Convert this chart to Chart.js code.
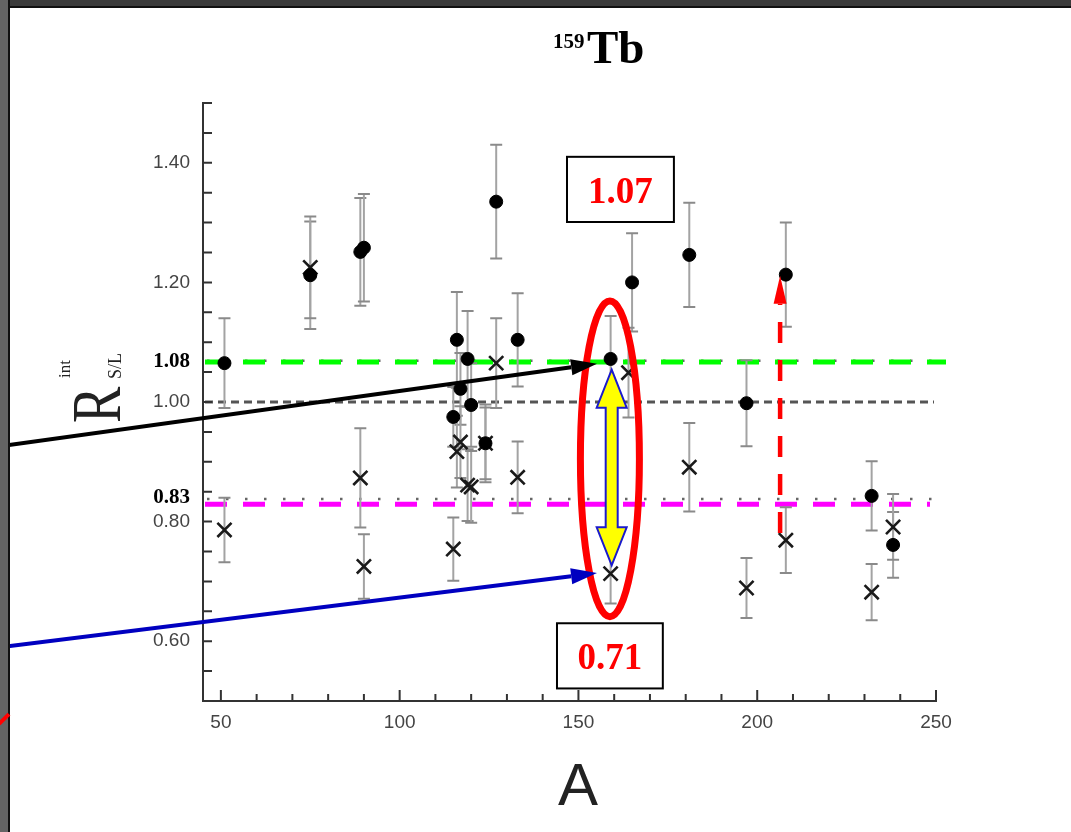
<!DOCTYPE html>
<html>
<head>
<meta charset="utf-8">
<title>159Tb</title>
<script src="https://cdn.jsdelivr.net/npm/chart.js@4.4.1/dist/chart.umd.min.js"></script>
<style>
  html, body { margin: 0; padding: 0; background: #fff; }
  #wrap { position: relative; width: 1071px; height: 832px; overflow: hidden; background: #fff; }
  #chart { position: absolute; left: 0; top: 0; }
  #frameTop { position: absolute; left: 0; top: 0; width: 1071px; height: 6px; background: #3b3b3b; border-bottom: 2px solid #111; }
  #frameLeft { position: absolute; left: 0; top: 0; width: 8px; height: 832px; background: #646464; border-right: 2px solid #111; }
  #redBit { position: absolute; left: -3px; top: 717px; width: 14px; height: 4px; background: #f00; transform: rotate(-45deg); }
</style>
</head>
<body>
<div id="wrap">
  <canvas id="chart" width="1071" height="832"></canvas>
  <div id="frameTop"></div>
  <div id="frameLeft"></div>
  <div id="redBit"></div>
</div>
<script>
// ---- ticks ----
const xTicks = [50, 60, 70, 80, 90, 100, 110, 120, 130, 140, 150, 160, 170, 180, 190, 200, 210, 220, 230, 240, 250];
const xLabels = [50, 100, 150, 200, 250];
const yTicks = [0.50, 0.55, 0.60, 0.65, 0.70, 0.75, 0.80, 0.85, 0.90, 0.95, 1.00,
                1.05, 1.10, 1.15, 1.20, 1.25, 1.30, 1.35, 1.40, 1.45, 1.50];
const yLabels = [0.60, 0.80, 1.00, 1.20, 1.40];
const yMarkTicks = [1.067, 0.84];
const yMarkText = ["1.08", "0.83"];

// ---- data: filled circles ----
const massS  = [51, 75, 89, 90, 115, 116, 117, 119, 120, 124, 127, 133, 159, 165, 181, 197, 208, 232, 238];
const ratioS = [1.065, 1.212, 1.251, 1.258, 0.975, 1.104, 1.022, 1.072, 0.995, 0.931, 1.335, 1.104, 1.072, 1.200, 1.246, 0.998, 1.213, 0.843, 0.761];
const errS   = [0.075, 0.090, 0.090, 0.090, 0.050, 0.080, 0.060, 0.080, 0.070, 0.065, 0.095, 0.078, 0.072, 0.082, 0.087, 0.072, 0.087, 0.058, 0.055];

// ---- data: crosses ----
const massL  = [51, 75, 89, 90, 115, 116, 117, 119, 120, 124, 127, 133, 159, 164, 181, 197, 208, 232, 238];
const ratioL = [0.786, 1.225, 0.873, 0.725, 0.754, 0.917, 0.933, 0.861, 0.858, 0.931, 1.065, 0.874, 0.713, 1.049, 0.891, 0.689, 0.769, 0.682, 0.791];
const errL   = [0.054, 0.085, 0.083, 0.054, 0.053, 0.060, 0.060, 0.060, 0.060, 0.060, 0.075, 0.060, 0.050, 0.075, 0.074, 0.050, 0.055, 0.047, 0.055];

// ---- reference levels ----
const levelGreen = 1.067;
const levelOne = 1.00;
const levelMagenta = 0.829;
const dottedLevels = [1.069, 0.838];

// ---- annotations (data units) ----
const blackArrow = [[-11.8, 0.926], [155.2, 1.064]];
const blueArrow  = [[-11.8, 0.590], [155.2, 0.714]];
const redArrow   = [[206.4, 0.781], [206.4, 1.211]];
const yellowArrow = [[159.3, 1.054], [159.3, 0.727]];
const ellipse = { a: 158.8, v: 0.905, ra: 8.25, rv: 0.264 };
const boxes = [
  { a0: 146.8, v0: 1.410, a1: 176.7, v1: 1.301, text: "1.07" },
  { a0: 144.0, v0: 0.630, a1: 173.6, v1: 0.521, text: "0.71" }
];

const near = (a, b) => Math.abs(a - b) < 1e-6;
const isMark = (c) => !!(c && c.tick) && yMarkTicks.some(m => near(m, c.tick.value));

function px(chart, a, v) {
  return [chart.scales.x.getPixelForValue(a), chart.scales.y.getPixelForValue(v)];
}

function hLine(ctx, x0, x1, y, color, width, dash) {
  ctx.save();
  ctx.strokeStyle = color;
  ctx.lineWidth = width;
  ctx.setLineDash(dash);
  ctx.beginPath();
  ctx.moveTo(x0, y);
  ctx.lineTo(x1, y);
  ctx.stroke();
  ctx.restore();
}

function arrow(ctx, p0, p1, color, width, headLen, headHalf, dash) {
  const dx = p1[0] - p0[0], dy = p1[1] - p0[1];
  const len = Math.hypot(dx, dy);
  const ux = dx / len, uy = dy / len;
  const bx = p1[0] - ux * headLen, by = p1[1] - uy * headLen;
  ctx.save();
  ctx.strokeStyle = color;
  ctx.fillStyle = color;
  ctx.lineWidth = width;
  ctx.setLineDash(dash || []);
  ctx.beginPath();
  ctx.moveTo(p0[0], p0[1]);
  ctx.lineTo(bx, by);
  ctx.stroke();
  ctx.setLineDash([]);
  ctx.beginPath();
  ctx.moveTo(p1[0], p1[1]);
  ctx.lineTo(bx - uy * headHalf, by + ux * headHalf);
  ctx.lineTo(bx + uy * headHalf, by - ux * headHalf);
  ctx.closePath();
  ctx.fill();
  ctx.restore();
}

// reference lines under the points
const refLinesPlugin = {
  id: "refLines",
  beforeDatasetsDraw(chart) {
    const { ctx, chartArea } = chart;
    const ys = chart.scales.y;
    const l = chartArea.left, r = chartArea.right;
    hLine(ctx, l + 2, r - 2, ys.getPixelForValue(levelOne), "#555", 3, [8, 5]);
    dottedLevels.forEach(v => hLine(ctx, l + 4, r, ys.getPixelForValue(v), "#666", 2.5, [2.5, 16.5]));
    hLine(ctx, l + 2, r + 10, ys.getPixelForValue(levelGreen), "#00ff00", 5, [22, 16]);
    hLine(ctx, l + 2, r - 6, ys.getPixelForValue(levelMagenta), "#ff00ff", 5, [22, 16]);
  }
};

// vertical error bars
const errorBarPlugin = {
  id: "errorBars",
  beforeDatasetsDraw(chart) {
    const { ctx } = chart;
    const xs = chart.scales.x, ys = chart.scales.y;
    chart.data.datasets.forEach(ds => {
      ds.data.forEach((p, i) => {
        const e = ds.errors[i];
        const x = xs.getPixelForValue(p.x);
        const yTop = ys.getPixelForValue(p.y + e);
        const yBot = ys.getPixelForValue(p.y - e);
        ctx.save();
        ctx.strokeStyle = "#a3a3a3";
        ctx.lineWidth = 2;
        ctx.beginPath();
        ctx.moveTo(x, yTop);
        ctx.lineTo(x, yBot);
        ctx.stroke();
        ctx.strokeStyle = "#8a8a8a";
        ctx.beginPath();
        ctx.moveTo(x - 6, yTop); ctx.lineTo(x + 6, yTop);
        ctx.moveTo(x - 6, yBot); ctx.lineTo(x + 6, yBot);
        ctx.stroke();
        ctx.restore();
      });
    });
  }
};

// inward tick marks, titles and annotations
const overlayPlugin = {
  id: "overlay",
  afterDraw(chart) {
    const { ctx, chartArea } = chart;
    const xs = chart.scales.x, ys = chart.scales.y;

    // tick marks pointing into the plot
    ctx.save();
    ctx.strokeStyle = "#333";
    ctx.lineWidth = 2;
    ctx.beginPath();
    yTicks.forEach(v => {
      const y = ys.getPixelForValue(v);
      ctx.moveTo(chartArea.left, y);
      ctx.lineTo(chartArea.left + 9, y);
    });
    xTicks.forEach(v => {
      const x = xs.getPixelForValue(v);
      const len = xLabels.includes(v) ? 11 : 7;
      ctx.moveTo(x, chartArea.bottom);
      ctx.lineTo(x, chartArea.bottom - len);
    });
    ctx.stroke();
    ctx.restore();

    // title 159Tb
    ctx.save();
    ctx.fillStyle = "#000";
    ctx.textBaseline = "alphabetic";
    ctx.font = "bold 21px 'Liberation Serif', 'Times New Roman', serif";
    ctx.fillText("159", 553, 48);
    ctx.font = "bold 47px 'Liberation Serif', 'Times New Roman', serif";
    ctx.fillText("Tb", 587, 63);
    ctx.restore();

    // x axis title
    ctx.save();
    ctx.fillStyle = "#222";
    ctx.textAlign = "center";
    ctx.font = "60px 'Liberation Sans', Arial, sans-serif";
    ctx.fillText("A", 578, 805);
    ctx.restore();

    // y axis title R^int_S/L, rotated
    ctx.save();
    ctx.translate(120, 423);
    ctx.rotate(-Math.PI / 2);
    ctx.fillStyle = "#222";
    ctx.save();
    ctx.scale(0.78, 1);
    ctx.font = "70px 'Liberation Serif', 'Times New Roman', serif";
    ctx.fillText("R", 0, 0);
    ctx.restore();
    ctx.font = "17px 'Liberation Serif', 'Times New Roman', serif";
    ctx.fillText("int", 45, -50);
    ctx.font = "18px 'Liberation Serif', 'Times New Roman', serif";
    ctx.fillText("S/L", 44, 1);
    ctx.restore();

    // red ellipse
    const c = px(chart, ellipse.a, ellipse.v);
    const rx = Math.abs(xs.getPixelForValue(ellipse.a + ellipse.ra) - c[0]);
    const ry = Math.abs(ys.getPixelForValue(ellipse.v + ellipse.rv) - c[1]);
    ctx.save();
    ctx.strokeStyle = "#ff0000";
    ctx.lineWidth = 7;
    ctx.beginPath();
    ctx.ellipse(c[0], c[1], rx, ry, 0, 0, Math.PI * 2);
    ctx.stroke();
    ctx.restore();

    // yellow double arrow
    const t = px(chart, yellowArrow[0][0], yellowArrow[0][1]);
    const b = px(chart, yellowArrow[1][0], yellowArrow[1][1]);
    const hx = 15, sx = 6, hl = 38, x = t[0];
    ctx.save();
    ctx.fillStyle = "#ffff00";
    ctx.strokeStyle = "#1a1acc";
    ctx.lineWidth = 2;
    ctx.beginPath();
    ctx.moveTo(x, t[1]);
    ctx.lineTo(x + hx, t[1] + hl);
    ctx.lineTo(x + sx, t[1] + hl);
    ctx.lineTo(x + sx, b[1] - hl);
    ctx.lineTo(x + hx, b[1] - hl);
    ctx.lineTo(x, b[1]);
    ctx.lineTo(x - hx, b[1] - hl);
    ctx.lineTo(x - sx, b[1] - hl);
    ctx.lineTo(x - sx, t[1] + hl);
    ctx.lineTo(x - hx, t[1] + hl);
    ctx.closePath();
    ctx.fill();
    ctx.stroke();
    ctx.restore();

    // pointing arrows
    arrow(ctx, px(chart, ...blackArrow[0]), px(chart, ...blackArrow[1]), "#000", 4, 26, 8);
    arrow(ctx, px(chart, ...blueArrow[0]), px(chart, ...blueArrow[1]), "#0000c0", 4, 26, 8);
    arrow(ctx, px(chart, ...redArrow[0]), px(chart, ...redArrow[1]), "#ff0000", 4.5, 28, 6.5, [21, 17]);

    // value boxes
    boxes.forEach(bx => {
      const p0 = px(chart, bx.a0, bx.v0), p1 = px(chart, bx.a1, bx.v1);
      ctx.save();
      ctx.fillStyle = "#fff";
      ctx.fillRect(p0[0], p0[1], p1[0] - p0[0], p1[1] - p0[1]);
      ctx.strokeStyle = "#000";
      ctx.lineWidth = 2;
      ctx.strokeRect(p0[0], p0[1], p1[0] - p0[0], p1[1] - p0[1]);
      ctx.fillStyle = "#ff0000";
      ctx.textAlign = "center";
      ctx.textBaseline = "alphabetic";
      ctx.font = "bold 37px 'Liberation Serif', 'Times New Roman', serif";
      ctx.fillText(bx.text, (p0[0] + p1[0]) / 2, p0[1] + 46);
      ctx.restore();
    });
  }
};

const tickFont = { family: "'Liberation Sans', Arial, sans-serif", size: 19 };
const markFont = { family: "'Liberation Serif', 'Times New Roman', serif", size: 21, weight: "bold" };

new Chart(document.getElementById("chart"), {
  type: "scatter",
  data: {
    datasets: [
      {
        label: "circles",
        data: massS.map((a, i) => ({ x: a, y: ratioS[i] })),
        errors: errS,
        pointStyle: "circle",
        pointRadius: 6.5,
        backgroundColor: "#000",
        borderColor: "#000",
        borderWidth: 1
      },
      {
        label: "crosses",
        data: massL.map((a, i) => ({ x: a, y: ratioL[i] })),
        errors: errL,
        pointStyle: "crossRot",
        pointRadius: 10,
        borderColor: "#1a1a1a",
        backgroundColor: "#1a1a1a",
        borderWidth: 2.6
      }
    ]
  },
  options: {
    responsive: false,
    animation: false,
    layout: { padding: { top: 103, right: 135, left: 0, bottom: 0 } },
    plugins: { legend: { display: false }, tooltip: { enabled: false } },
    scales: {
      x: {
        type: "linear",
        min: 45,
        max: 250,
        afterBuildTicks: (s) => { s.ticks = xTicks.map(v => ({ value: v })); },
        afterFit: (s) => { s.height = 131; },
        grid: { display: false, drawTicks: false },
        border: { display: true, color: "#333", width: 2 },
        ticks: {
          autoSkip: false,
          maxRotation: 0,
          padding: 10,
          color: "#444",
          font: tickFont,
          callback: (v) => xLabels.includes(v) ? String(v) : ""
        }
      },
      y: {
        type: "linear",
        min: 0.5,
        max: 1.5,
        afterBuildTicks: (s) => {
          s.ticks = yTicks.concat(yMarkTicks).sort((a, b) => a - b).map(v => ({ value: v }));
        },
        afterFit: (s) => { s.width = 203; },
        grid: { display: false, drawTicks: false },
        border: { display: true, color: "#333", width: 2 },
        ticks: {
          autoSkip: false,
          padding: 13,
          color: (c) => isMark(c) ? "#000" : "#444",
          font: (c) => isMark(c) ? markFont : tickFont,
          callback: (v) => {
            const k = yMarkTicks.findIndex(m => near(m, v));
            if (k >= 0) return yMarkText[k];
            return yLabels.some(l => near(l, v)) ? v.toFixed(2) : "";
          }
        }
      }
    }
  },
  plugins: [refLinesPlugin, errorBarPlugin, overlayPlugin]
});
</script>
</body>
</html>
